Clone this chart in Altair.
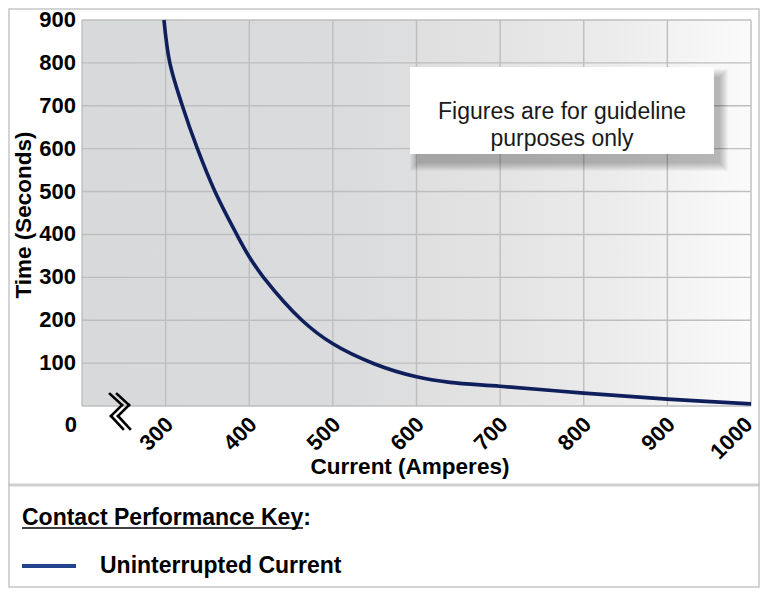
import altair as alt
import pandas as pd

# ---------------- data ----------------
current = [298, 305, 320, 338, 359, 385, 400, 417, 463, 500, 550, 600, 640, 700, 800, 900, 1000]
time_s = [900, 800, 700, 600, 500, 400, 348, 300, 200, 145, 98, 68, 55, 46, 30, 16, 5]

x_ticks = [300, 400, 500, 600, 700, 800, 900, 1000]
y_ticks = [100, 200, 300, 400, 500, 600, 700, 800, 900]
x_grid = [200] + x_ticks
y_grid = [0] + y_ticks
x_domain = [200, 1000]
y_domain = [0, 900]

x_title = "Current (Amperes)"
y_title = "Time (Seconds)"
zero_label = "0"
note_text = "Figures are for guideline\npurposes only"
key_title = "Contact Performance Key"
series_name = "Uninterrupted Current"

# ---------------- style ----------------
FONT = "Liberation Sans"
W, H = 669, 386
CURVE = "#0e1f5b"
KEYLINE = "#23428c"
GRID = "#bebebe"

xs = alt.Scale(domain=x_domain, nice=False, zero=False)
ys = alt.Scale(domain=y_domain, nice=False, zero=False)

one = pd.DataFrame({"k": [0]})

gradient = alt.LinearGradient(
    gradient="linear",
    stops=[
        alt.GradientStop(color="#d8d9da", offset=0),
        alt.GradientStop(color="#dadbdc", offset=0.38),
        alt.GradientStop(color="#e3e3e4", offset=0.62),
        alt.GradientStop(color="#ececec", offset=0.8),
        alt.GradientStop(color="#fbfbfb", offset=1),
    ],
    x1=0, x2=1, y1=0, y2=0,
)

background = alt.Chart(one).mark_rect(color=gradient).encode(
    x=alt.X(datum=x_domain[0], scale=xs, axis=None),
    x2=alt.X2(datum=x_domain[1]),
    y=alt.Y(datum=y_domain[0], scale=ys, axis=None),
    y2=alt.Y2(datum=y_domain[1]),
)

vgrid = alt.Chart(pd.DataFrame({"current": x_grid})).mark_rule(
    color=GRID, strokeWidth=1.4
).encode(x=alt.X("current:Q", scale=xs, axis=None))

hgrid = alt.Chart(pd.DataFrame({"time": y_grid})).mark_rule(
    color=GRID, strokeWidth=1.4
).encode(y=alt.Y("time:Q", scale=ys, axis=None))

# annotation box with soft shadow (pixel coordinates of the view)
bx0, bx1, by0, by1 = 328, 632, 47, 134
shadows = []
for k in range(9):
    shadows.append(
        alt.Chart(one).mark_rect(color="black", opacity=0.032).encode(
            x=alt.value(bx0 + 8 - k), x2=alt.value(bx1 + 6 + k),
            y=alt.value(by0 + 10 - k), y2=alt.value(by1 + 9 + k),
        )
    )
box = alt.Chart(one).mark_rect(color="white").encode(
    x=alt.value(bx0), x2=alt.value(bx1), y=alt.value(by0), y2=alt.value(by1)
)
note = alt.Chart(one).mark_text(
    text=note_text, lineBreak="\n", lineHeight=27, font=FONT, fontSize=23,
    color="#1a1a1a", align="center", baseline="middle",
).encode(x=alt.value((bx0 + bx1) / 2), y=alt.value(92))

curve = alt.Chart(pd.DataFrame({"current": current, "time": time_s})).mark_line(
    color=CURVE, strokeWidth=3.6, interpolate="catmull-rom"
).encode(
    x=alt.X("current:Q", scale=xs, axis=None),
    y=alt.Y("time:Q", scale=ys, axis=None),
)

# tick labels and axis titles as text marks
y_labels = alt.Chart(pd.DataFrame({"time": y_ticks})).mark_text(
    font=FONT, fontSize=22, fontWeight="bold", color="black",
    align="right", baseline="middle",
).encode(
    x=alt.value(-6),
    y=alt.Y("time:Q", scale=ys, axis=None),
    text=alt.Text("time:Q"),
)


def x_label_layer(ticks, shift):
    return alt.Chart(pd.DataFrame({"current": ticks})).mark_text(
        font=FONT, fontSize=22, fontWeight="bold", color="black",
        align="right", baseline="middle", angle=315, xOffset=shift,
    ).encode(
        x=alt.X("current:Q", scale=xs, axis=None),
        y=alt.value(H + 15),
        text=alt.Text("current:Q"),
    )


x_labels_inner = x_label_layer(x_ticks[:-1], 4)
x_labels_last = x_label_layer(x_ticks[-1:], -2)

x_title_mark = alt.Chart(one).mark_text(
    text=x_title, font=FONT, fontSize=22.5, fontWeight="bold", color="black",
    align="center", baseline="alphabetic",
).encode(x=alt.value(328), y=alt.value(454))
y_title_mark = alt.Chart(one).mark_text(
    text=y_title, font=FONT, fontSize=22.5, fontWeight="bold", color="black",
    align="center", baseline="alphabetic", angle=270,
).encode(x=alt.value(-51), y=alt.value(195))

# axis break symbol: two zigzags drawn as short rule segments (view pixels)
zig_a = [(28, 374), (40, 385), (29, 396), (41, 409)]
zig_b = [(35, 374), (47, 385), (36, 396), (48, 409)]
brk_layers = []
for zig in (zig_a, zig_b):
    for (xa, ya), (xb, yb) in zip(zig[:-1], zig[1:]):
        brk_layers.append(
            alt.Chart(one).mark_rule(color="black", strokeWidth=2.6, strokeCap="square").encode(
                x=alt.value(xa), x2=alt.value(xb), y=alt.value(ya), y2=alt.value(yb)
            )
        )

zero_txt = alt.Chart(one).mark_text(
    text=zero_label, font=FONT, fontSize=22, fontWeight="bold", color="black",
    align="right", baseline="middle",
).encode(x=alt.value(-5), y=alt.value(405))

# key section
sep = alt.Chart(one).mark_rule(color="#cfcfcf", strokeWidth=3).encode(
    x=alt.value(-74), x2=alt.value(678), y=alt.value(465)
)
frame = alt.Chart(one).mark_rect(filled=False, stroke="#c6c6c6", strokeWidth=1.5).encode(
    x=alt.value(-73), x2=alt.value(677), y=alt.value(-11), y2=alt.value(567)
)
key_head = alt.Chart(one).mark_text(
    text=key_title + ":", font=FONT, fontSize=23, fontWeight="bold", color="black",
    align="left", baseline="alphabetic",
).encode(x=alt.value(-60), y=alt.value(505))
key_ul = alt.Chart(one).mark_rule(color="black", strokeWidth=1.5).encode(
    x=alt.value(-60), x2=alt.value(221), y=alt.value(508)
)
key_line = alt.Chart(one).mark_rule(color=KEYLINE, strokeWidth=4).encode(
    x=alt.value(-60), x2=alt.value(-6), y=alt.value(546)
)
key_lbl = alt.Chart(one).mark_text(
    text=series_name, font=FONT, fontSize=23, fontWeight="bold", color="black",
    align="left", baseline="alphabetic",
).encode(x=alt.value(18), y=alt.value(553))

chart = alt.layer(
    background, vgrid, hgrid, *shadows, box, note, curve, y_labels,
    x_labels_inner, x_labels_last, x_title_mark, y_title_mark, *brk_layers, zero_txt,
    sep, frame, key_head, key_ul, key_line, key_lbl,
).properties(
    width=W, height=H,
    autosize=alt.AutoSizeParams(type="none"),
    padding={"left": 74, "top": 12, "right": 9, "bottom": 182},
    background="white",
).configure_view(stroke=None)

chart.save("out.html", embed_options={"renderer": "svg", "actions": False})
